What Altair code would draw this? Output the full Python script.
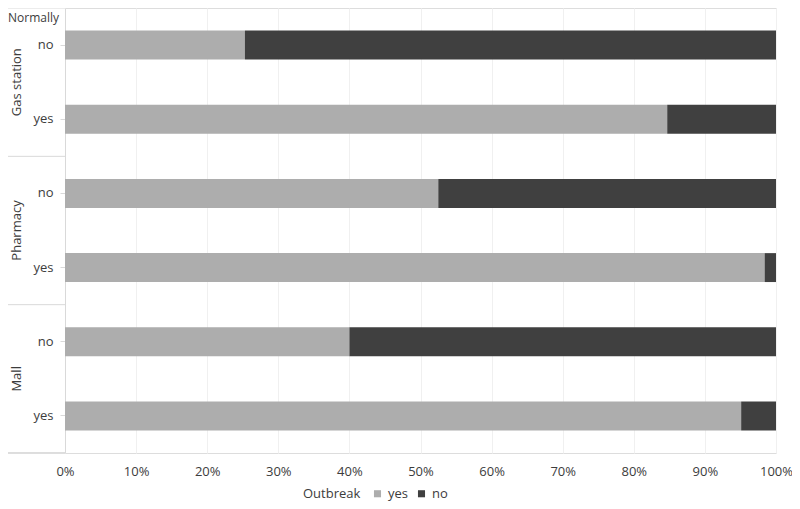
import altair as alt
import pandas as pd

groups = ["Gas station", "Gas station", "Pharmacy", "Pharmacy", "Mall", "Mall"]
normally = ["no", "yes", "no", "yes", "no", "yes"]
outbreak_yes = [25.3, 84.7, 52.5, 98.4, 40.0, 95.1]
outbreak_no = [74.7, 15.3, 47.5, 1.6, 60.0, 4.9]
group_names = ["Gas station", "Pharmacy", "Mall"]
x_ticks = [0, 0.1, 0.2, 0.3, 0.4, 0.5, 0.6, 0.7, 0.8, 0.9, 1.0]

keys = [f"{g}|{n}" for g, n in zip(groups, normally)]

rows = []
for k, g, n, vy, vn in zip(keys, groups, normally, outbreak_yes, outbreak_no):
    rows.append({"key": k, "group": g, "normally": n, "Outbreak": "yes", "pct": vy, "ord": 0})
    rows.append({"key": k, "group": g, "normally": n, "Outbreak": "no", "pct": vn, "ord": 1})
df = pd.DataFrame(rows)

grp_df = pd.DataFrame({"group": group_names, "key": [f"{g}|yes" for g in group_names]})
sep_df = pd.DataFrame({"key": [f"{g}|no" for g in group_names]})

TXT = "#3c3c3c"
FONT = "Open Sans"

yscale = alt.Scale(domain=keys, paddingInner=0, paddingOuter=0)

bars = alt.Chart(df).mark_bar(height={"band": 0.39}).encode(
    y=alt.Y("key:N", scale=yscale, sort=keys,
            axis=alt.Axis(title=None, labelExpr="split(datum.label, '|')[1]",
                          domainColor="#d9d9d9", tickColor="#d9d9d9", tickSize=5,
                          labelPadding=7, labelFontSize=13, labelColor=TXT, labelFont=FONT,
                          grid=False)),
    x=alt.X("pct:Q", stack="normalize",
            scale=alt.Scale(domain=[0, 1], nice=False),
            axis=alt.Axis(title=None, format=".0%", values=x_ticks, ticks=False, domain=False,
                          labelPadding=12, labelFontSize=13, labelColor=TXT, labelFont=FONT,
                          labelFlush=False, grid=True, gridColor="#f0f0f0")),
    color=alt.Color("Outbreak:N",
                    scale=alt.Scale(domain=["yes", "no"], range=["#adadad", "#404040"]),
                    legend=alt.Legend(orient="none", legendX=238, legendY=479, direction="horizontal",
                                      titleOrient="left", title="Outbreak", symbolType="square",
                                      symbolSize=50, symbolStrokeWidth=0,
                                      titleFont=FONT, titleFontSize=13, titleFontWeight="normal",
                                      titleColor=TXT, labelFont=FONT, labelFontSize=13,
                                      labelColor=TXT, columnPadding=6, titlePadding=10)),
    order=alt.Order("ord:Q"),
)

grp_labels = alt.Chart(grp_df).mark_text(angle=270, fontSize=13, font=FONT, color=TXT,
                                         align="center", baseline="middle").encode(
    y=alt.Y("key:N", scale=yscale, sort=keys, bandPosition=0),
    x=alt.value(-48),
    text="group:N",
)

seps = alt.Chart(sep_df).mark_rule(color="#d9d9d9", strokeWidth=1).encode(
    y=alt.Y("key:N", scale=yscale, sort=keys, bandPosition=0),
    x=alt.value(-62),
    x2=alt.value(0),
)

bottom_sep = alt.Chart(sep_df).mark_rule(color="#d9d9d9", strokeWidth=1).encode(
    y=alt.value(445), x=alt.value(-62), x2=alt.value(0)
)
left_line = alt.Chart(sep_df).mark_rule(color="#e4e4e4", strokeWidth=1).encode(
    x=alt.value(-62), y=alt.value(0), y2=alt.value(445)
)
header = alt.Chart(pd.DataFrame({"t": ["Normally"]})).mark_text(
    fontSize=12, font=FONT, color=TXT, align="left", baseline="middle"
).encode(x=alt.value(-57), y=alt.value(10), text="t:N")

chart = alt.layer(bars, seps, bottom_sep, left_line, grp_labels, header).properties(
    width=711, height=445,
    autosize=alt.AutoSizeParams(type="none"),
    padding={"left": 57, "top": 0, "right": 16, "bottom": 48},
).configure_view(stroke=None).configure(background="white")

chart.save("out.html", embed_options={"renderer": "svg", "actions": False})
